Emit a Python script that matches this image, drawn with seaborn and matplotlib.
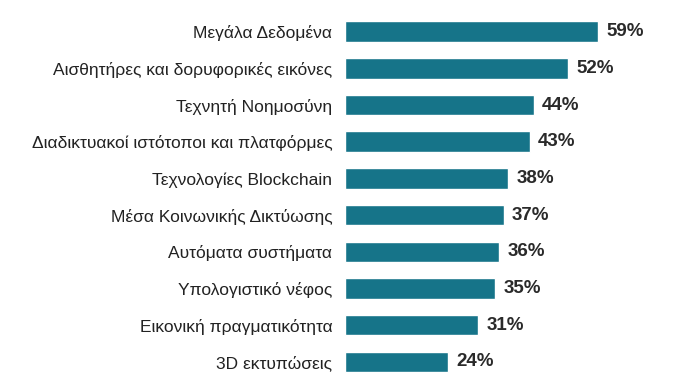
import matplotlib
matplotlib.use("Agg")
import matplotlib.pyplot as plt
import seaborn as sns
import pandas as pd

# chart data
categories = [
    "Μεγάλα Δεδομένα",
    "Αισθητήρες και δορυφορικές εικόνες",
    "Τεχνητή Νοημοσύνη",
    "Διαδικτυακοί ιστότοποι και πλατφόρμες",
    "Τεχνολογίες Blockchain",
    "Μέσα Κοινωνικής Δικτύωσης",
    "Αυτόματα συστήματα",
    "Υπολογιστικό νέφος",
    "Εικονική πραγματικότητα",
    "3D εκτυπώσεις",
]
values = [59, 52, 44, 43, 38, 37, 36, 35, 31, 24]

df = pd.DataFrame({"cat": categories, "val": values})

sns.set_theme(style="white")
plt.rcParams['font.family'] = ['Liberation Sans', 'DejaVu Sans']

fig = plt.figure(figsize=(6.83, 3.92), dpi=100)
ax = fig.add_axes([0.505, 0.03, 0.44, 0.936])

sns.barplot(data=df, x="val", y="cat", color="#167489", saturation=1, width=0.56, ax=ax)

ax.set_xlim(0, 70)
ax.set_ylim(9.5, -0.5)
ax.set_xlabel("")
ax.set_ylabel("")
ax.set_xticks([])
ax.tick_params(axis="y", length=0, pad=9, labelsize=12.5, labelcolor="#222222")
sns.despine(ax=ax, left=True, bottom=True)

# value labels
ax.bar_label(ax.containers[0], labels=[f"{v}%" for v in values], padding=6,
             fontsize=13.5, fontweight="bold", color="#2a2a2a")

fig.savefig("out.png", dpi=100)
